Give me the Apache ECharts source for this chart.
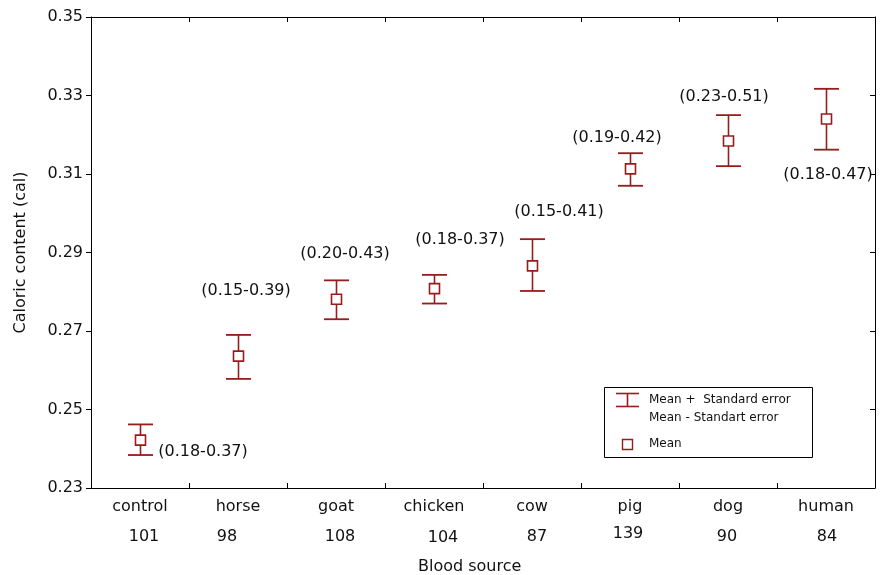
<!DOCTYPE html>
<html>
<head>
<meta charset="utf-8">
<script src="https://cdn.jsdelivr.net/npm/echarts@6/dist/echarts.min.js"></script>
<style>
html,body{margin:0;padding:0;background:#fff;}
#chart{width:883px;height:575px;}
</style>
</head>
<body>
<div id="chart"></div>
<script>
// ---- data ----
const categories = ['control', 'horse', 'goat', 'chicken', 'cow', 'pig', 'dog', 'human'];
const counts = [101, 98, 108, 104, 87, 139, 90, 84];
const means = [0.2422, 0.2636, 0.2781, 0.2808, 0.2866, 0.3113, 0.3184, 0.3240];
const upperSE = [0.2462, 0.2690, 0.2829, 0.2843, 0.2934, 0.3153, 0.3250, 0.3317];
const lowerSE = [0.2384, 0.2578, 0.2730, 0.2770, 0.2802, 0.3070, 0.3120, 0.3162];
const rangeLabels = ['(0.18-0.37)', '(0.15-0.39)', '(0.20-0.43)', '(0.18-0.37)', '(0.15-0.41)', '(0.19-0.42)', '(0.23-0.51)', '(0.18-0.47)'];
const yMin = 0.23, yMax = 0.35, yStep = 0.02;

// ---- layout (pixel offsets of annotation texts) ----
const rangeLabelOffset = [[63, 12], [8, -65], [9, -45], [26, -49], [27, -54], [-13, -31], [-4, -44], [2, 56]];
const countOffset = [[4, 49], [-11, 49], [4, 49], [9, 50], [5, 49], [-2, 46], [-1, 49], [1, 49]];

const FONT = 'DejaVu Sans';
const RED = '#981c1c';
const TXT = '#111';

const chart = echarts.init(document.getElementById('chart'), null, {renderer: 'canvas'});

const errData = categories.map((c, i) => [i, means[i], lowerSE[i], upperSE[i]]);
const countData = categories.map((c, i) => [i, counts[i]]);

function renderErr(params, api) {
  const i = api.value(0);
  const m = api.coord([i, api.value(1)]);
  const lo = api.coord([i, api.value(2)]);
  const hi = api.coord([i, api.value(3)]);
  const x = Math.round(m[0]) + 0.5;
  const capW = 12.5, box = 10;
  const off = rangeLabelOffset[params.dataIndex];
  const lineStyle = {stroke: RED, lineWidth: 1.6};
  return {
    type: 'group',
    children: [
      {type: 'line', shape: {x1: x, y1: hi[1], x2: x, y2: lo[1]}, style: lineStyle},
      {type: 'line', shape: {x1: x - capW, y1: hi[1], x2: x + capW, y2: hi[1]}, style: {stroke: RED, lineWidth: 1.8}},
      {type: 'line', shape: {x1: x - capW, y1: lo[1], x2: x + capW, y2: lo[1]}, style: {stroke: RED, lineWidth: 1.8}},
      {type: 'rect', shape: {x: x - box / 2, y: m[1] - box / 2, width: box, height: box},
        style: {fill: '#fff', stroke: RED, lineWidth: 1.6}},
      {type: 'text', x: m[0] + off[0], y: m[1] + off[1],
        style: {text: rangeLabels[params.dataIndex], fill: TXT, font: '16px ' + FONT, align: 'center', verticalAlign: 'middle'}}
    ]
  };
}

function renderCount(params, api) {
  const p = api.coord([api.value(0), yMin]);
  const off = countOffset[params.dataIndex];
  return {
    type: 'text', x: p[0] + off[0], y: p[1] + off[1],
    style: {text: String(api.value(1)), fill: TXT, font: '16px ' + FONT, align: 'center', verticalAlign: 'middle'}
  };
}

const axisLineStyle = {color: '#000', width: 1};

const option = {
  backgroundColor: '#fff',
  animation: false,
  grid: {left: 91, right: 8, top: 17, bottom: 87, containLabel: false},
  xAxis: [
    {
      type: 'category', data: categories, position: 'bottom', boundaryGap: true,
      axisLine: {show: true, lineStyle: axisLineStyle},
      axisTick: {show: true, inside: true, length: 5, interval: 0, lineStyle: axisLineStyle},
      axisLabel: {show: true, interval: 0, margin: 11, color: TXT, fontFamily: FONT, fontSize: 16},
      splitLine: {show: false}
    },
    {
      type: 'category', data: categories, position: 'top', boundaryGap: true,
      axisLine: {show: true, lineStyle: axisLineStyle},
      axisTick: {show: true, inside: true, length: 5, interval: 0, lineStyle: axisLineStyle},
      axisLabel: {show: false},
      splitLine: {show: false}
    }
  ],
  yAxis: [
    {
      type: 'value', min: yMin, max: yMax, interval: yStep, position: 'left',
      name: 'Caloric content (cal)', nameLocation: 'middle', nameGap: 62, nameRotate: 90,
      nameTextStyle: {color: TXT, fontFamily: FONT, fontSize: 16},
      axisLine: {show: true, lineStyle: axisLineStyle},
      axisTick: {show: true, inside: false, length: 5, lineStyle: axisLineStyle},
      axisLabel: {show: true, margin: 8, color: TXT, fontFamily: FONT, fontSize: 16, formatter: v => v.toFixed(2)},
      splitLine: {show: false}
    },
    {
      type: 'value', min: yMin, max: yMax, interval: yStep, position: 'right',
      axisLine: {show: true, lineStyle: axisLineStyle},
      axisTick: {show: true, inside: true, length: 5, lineStyle: axisLineStyle},
      axisLabel: {show: false},
      splitLine: {show: false}
    }
  ],
  graphic: [
    {type: 'text', left: 418, top: 559, style: {text: 'Blood source', fill: TXT, font: '16px ' + FONT}},
    {type: 'group', left: 604, top: 387, children: [
      {type: 'rect', shape: {x: 0.5, y: 0.5, width: 208, height: 70}, style: {fill: '#fff', stroke: '#000', lineWidth: 1}},
      {type: 'line', shape: {x1: 12, y1: 6.5, x2: 35, y2: 6.5}, style: {stroke: RED, lineWidth: 1.6}},
      {type: 'line', shape: {x1: 12, y1: 19.5, x2: 35, y2: 19.5}, style: {stroke: RED, lineWidth: 1.6}},
      {type: 'line', shape: {x1: 23.5, y1: 6.5, x2: 23.5, y2: 19.5}, style: {stroke: RED, lineWidth: 1.6}},
      {type: 'rect', shape: {x: 18.5, y: 52.5, width: 10, height: 10}, style: {fill: '#fff', stroke: RED, lineWidth: 1.4}},
      {type: 'text', x: 45, y: 13, style: {text: 'Mean +  Standard error', fill: TXT, font: '12px ' + FONT, verticalAlign: 'middle'}},
      {type: 'text', x: 45, y: 31, style: {text: 'Mean - Standart error', fill: TXT, font: '12px ' + FONT, verticalAlign: 'middle'}},
      {type: 'text', x: 45, y: 57, style: {text: 'Mean', fill: TXT, font: '12px ' + FONT, verticalAlign: 'middle'}}
    ]}
  ],
  series: [
    {
      name: 'Mean', type: 'custom', xAxisIndex: 0, yAxisIndex: 0, clip: false,
      renderItem: renderErr, data: errData, encode: {x: 0, y: [1, 2, 3]}, z: 5
    },
    {
      name: 'N', type: 'custom', xAxisIndex: 0, yAxisIndex: 0, clip: false,
      renderItem: renderCount, data: countData, encode: {x: 0, y: 1}, z: 5, silent: true
    }
  ]
};

chart.setOption(option);
</script>
</body>
</html>
